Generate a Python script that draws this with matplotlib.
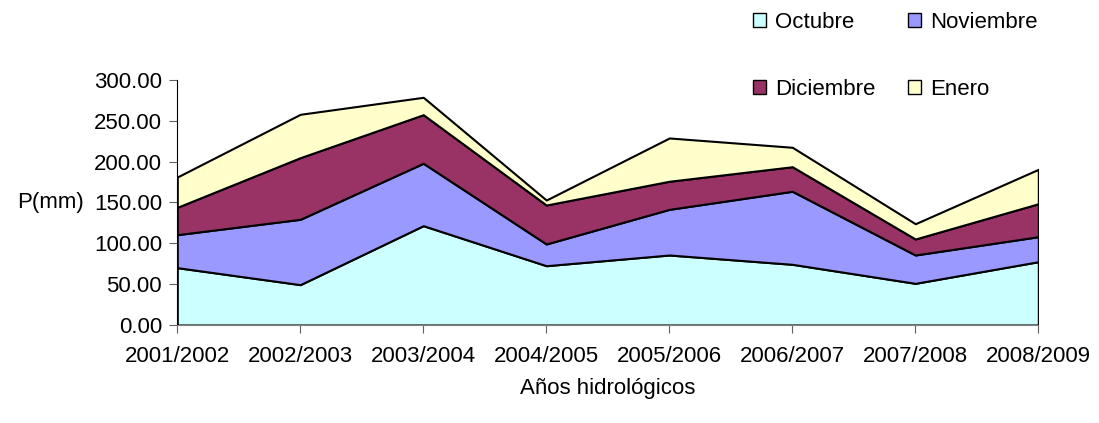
# Precipitación mensual acumulada (Oct-Ene) por año hidrológico - gráfico de áreas apiladas

import matplotlib.pyplot as plt
from matplotlib.patches import Patch
from matplotlib.ticker import FormatStrFormatter

plt.rcParams['font.family'] = ['Liberation Sans', 'DejaVu Sans']

# Datos (mm)
anios = ['2001/2002', '2002/2003', '2003/2004', '2004/2005',
         '2005/2006', '2006/2007', '2007/2008', '2008/2009']
octubre = [70.2, 49.4, 121.6, 72.6, 85.7, 74.3, 51.0, 77.5]
noviembre = [40.4, 80.0, 76.4, 26.6, 55.9, 89.4, 34.7, 30.6]
diciembre = [33.5, 75.5, 59.5, 47.7, 34.4, 30.1, 19.6, 40.4]
enero = [37.1, 53.1, 21.3, 6.1, 53.0, 23.8, 18.7, 42.1]

meses = ['Octubre', 'Noviembre', 'Diciembre', 'Enero']
colores = ['#CCFFFF', '#9999FF', '#993366', '#FFFFCC']

fs = 16

fig = plt.figure(figsize=(10.99, 4.23), dpi=100)
ax = fig.add_axes([0.1613, 0.2317, 0.7835, 0.5792])

x = list(range(len(anios)))
ax.stackplot(x, octubre, noviembre, diciembre, enero,
             colors=colores, edgecolor='black', linewidth=1.5)

ax.set_xlim(0, len(anios) - 1)
ax.set_ylim(0, 300)
ax.set_yticks(range(0, 301, 50))
ax.yaxis.set_major_formatter(FormatStrFormatter('%.2f'))
ax.set_xticks(x)
ax.set_xticklabels(anios)

for s in ['top', 'right']:
    ax.spines[s].set_visible(False)
ax.spines['left'].set_color('black')
ax.spines['bottom'].set_color('#808080')
ax.tick_params(axis='both', labelsize=fs, direction='out', length=6, color='#606060')
ax.tick_params(axis='x', pad=9)
ax.tick_params(axis='y', pad=5)

ax.set_ylabel('P(mm)', fontsize=fs, rotation=0, ha='right', va='center')
ax.yaxis.set_label_coords(-0.109, 0.5)
ax.set_xlabel('Años hidrológicos', fontsize=fs, labelpad=8)

# Leyenda 2x2 (orden por columnas)
handles = [Patch(facecolor=colores[i], edgecolor='black', label=meses[i]) for i in [0, 2, 1, 3]]
fig.legend(handles=handles, loc='upper left', bbox_to_anchor=(742 / 1099, 1 - 1 / 423),
           ncol=2, frameon=False, fontsize=fs, borderpad=0, handlelength=0.6,
           handleheight=0.6, handletextpad=0.4, columnspacing=1.45, labelspacing=2.05)

plt.savefig('out.png', dpi=100)
plt.close()
